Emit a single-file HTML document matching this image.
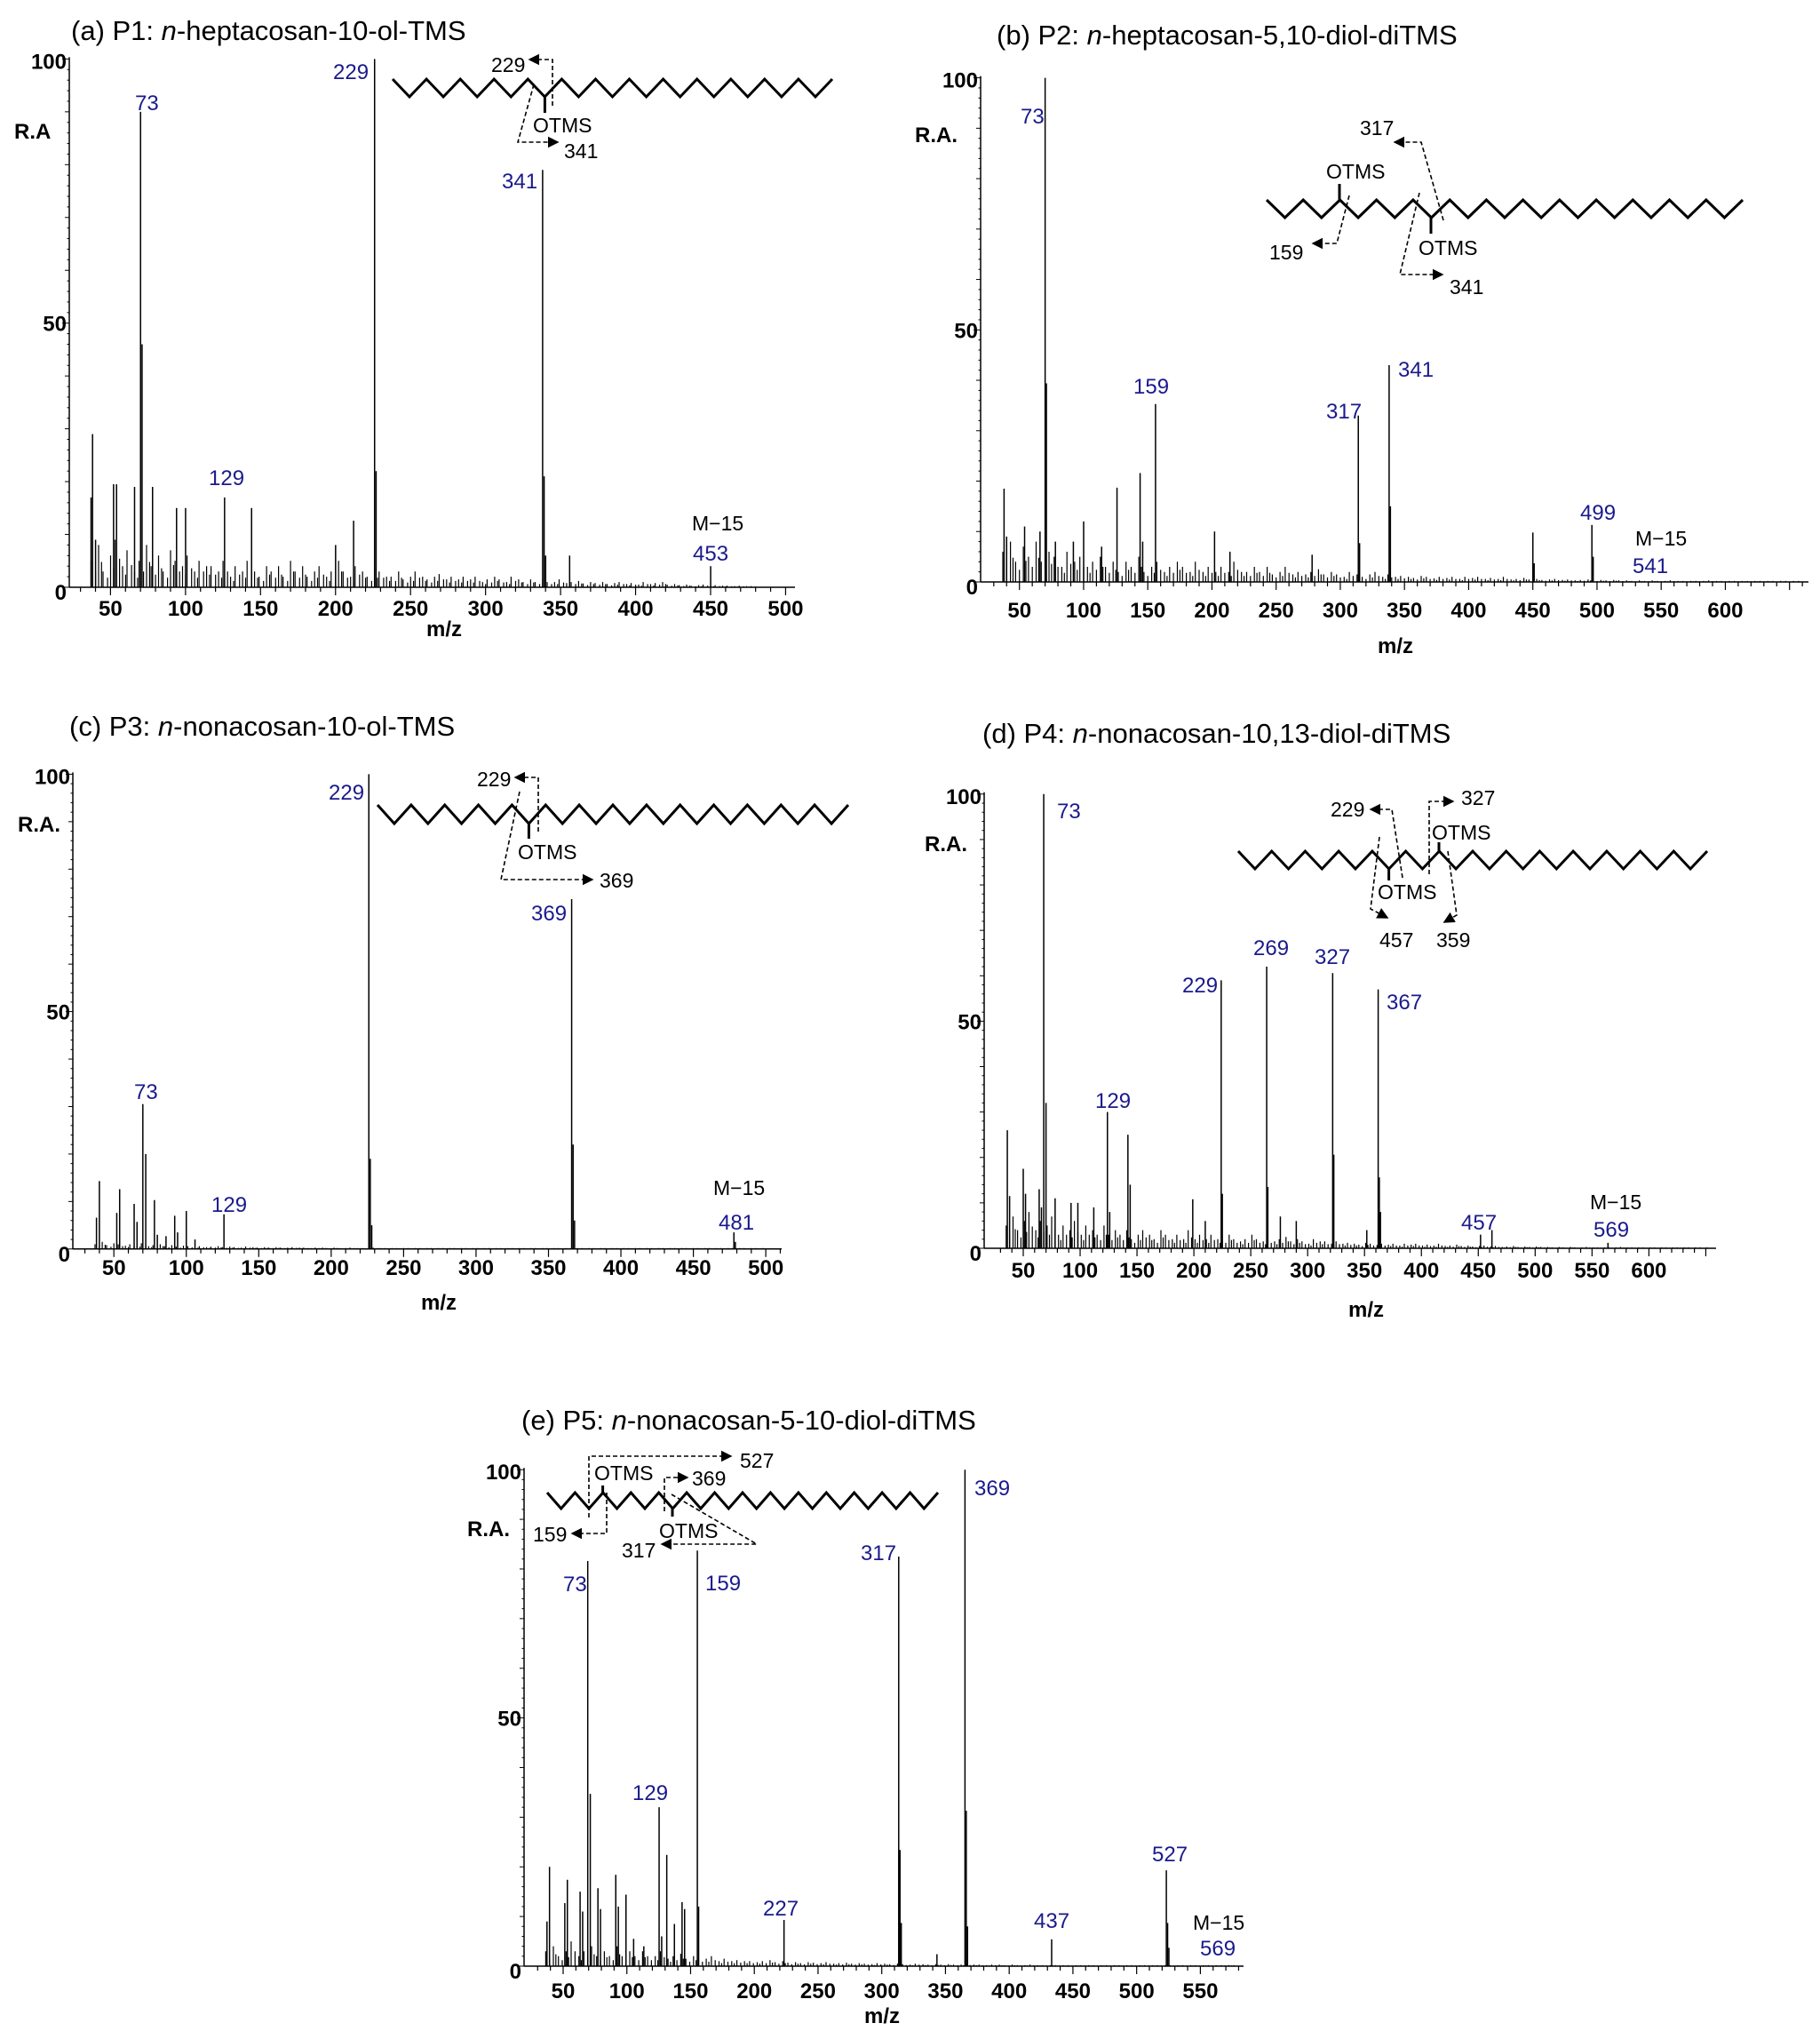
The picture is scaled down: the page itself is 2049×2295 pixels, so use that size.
<!DOCTYPE html>
<html><head><meta charset="utf-8"><style>
html,body{margin:0;padding:0;background:#fff}
svg{display:block}
.t{font-family:"Liberation Sans",sans-serif;fill:#000}
.tk{font-family:"Liberation Sans Narrow","Liberation Sans",sans-serif;font-weight:bold;font-size:24px;fill:#000}
.pl{font-family:"Liberation Sans Narrow","Liberation Sans",sans-serif;font-size:24px;fill:#1a1a8c}
.an{font-family:"Liberation Sans Narrow","Liberation Sans",sans-serif;font-size:23px;fill:#000}
.ti{font-family:"Liberation Sans",sans-serif;font-size:31px;fill:#000}
.ds{fill:none;stroke:#000;stroke-width:1.6;stroke-dasharray:5,3}
</style></head><body>
<svg id="fig" xmlns="http://www.w3.org/2000/svg" width="2049" height="2295" viewBox="0 0 2049 2295">
<defs><marker id="ar" markerWidth="8" markerHeight="8" refX="7" refY="4" orient="auto"><path d="M0,0 L8,4 L0,8 z" fill="#000"/></marker></defs>

<text class="ti" x="80" y="45">(a) P1: <tspan font-style="italic">n</tspan>-heptacosan-10-ol-TMS</text>
<text class="ti" x="1122" y="50">(b) P2: <tspan font-style="italic">n</tspan>-heptacosan-5,10-diol-diTMS</text>
<text class="ti" x="78" y="828">(c) P3: <tspan font-style="italic">n</tspan>-nonacosan-10-ol-TMS</text>
<text class="ti" x="1106" y="836">(d) P4: <tspan font-style="italic">n</tspan>-nonacosan-10,13-diol-diTMS</text>
<text class="ti" x="587" y="1609">(e) P5: <tspan font-style="italic">n</tspan>-nonacosan-5-10-diol-diTMS</text>

<text class="tk" x="16" y="156" font-size="27">R.A</text>
<text class="tk" x="1030" y="160" font-size="27">R.A.</text>
<text class="tk" x="20" y="936" font-size="27">R.A.</text>
<text class="tk" x="1041" y="958" font-size="27">R.A.</text>
<text class="tk" x="526" y="1729" font-size="27">R.A.</text>

<text class="tk" x="500" y="716" text-anchor="middle">m/z</text>
<text class="tk" x="1571" y="735" text-anchor="middle">m/z</text>
<text class="tk" x="494" y="1474" text-anchor="middle">m/z</text>
<text class="tk" x="1538" y="1482" text-anchor="middle">m/z</text>
<text class="tk" x="993" y="2277" text-anchor="middle">m/z</text>

<g>
<text class="pl" x="152" y="124">73</text><text class="pl" x="375" y="89">229</text>
<text class="pl" x="565" y="212">341</text><text class="pl" x="235" y="546">129</text>
<text class="an" x="779" y="597">M−15</text><text class="pl" x="780" y="631">453</text></g>
<g>
<text class="pl" x="1149" y="139">73</text><text class="pl" x="1276" y="443">159</text>
<text class="pl" x="1493" y="471">317</text><text class="pl" x="1574" y="424">341</text>
<text class="pl" x="1779" y="585">499</text><text class="an" x="1841" y="614">M−15</text>
<text class="pl" x="1838" y="645">541</text></g>
<g>
<text class="pl" x="151" y="1237">73</text><text class="pl" x="238" y="1364">129</text>
<text class="pl" x="370" y="900">229</text><text class="pl" x="598" y="1036">369</text>
<text class="an" x="803" y="1345">M−15</text><text class="pl" x="809" y="1384">481</text></g>
<g>
<text class="pl" x="1190" y="921">73</text><text class="pl" x="1233" y="1247">129</text>
<text class="pl" x="1331" y="1117">229</text><text class="pl" x="1411" y="1075">269</text>
<text class="pl" x="1480" y="1085">327</text><text class="pl" x="1561" y="1136">367</text>
<text class="pl" x="1645" y="1384">457</text><text class="an" x="1790" y="1361">M−15</text>
<text class="pl" x="1794" y="1392">569</text></g>
<g>
<text class="pl" x="634" y="1791">73</text><text class="pl" x="794" y="1790">159</text>
<text class="pl" x="712" y="2026">129</text><text class="pl" x="859" y="2156">227</text>
<text class="pl" x="969" y="1756">317</text><text class="pl" x="1097" y="1683">369</text>
<text class="pl" x="1164" y="2170">437</text><text class="pl" x="1297" y="2095">527</text>
<text class="an" x="1343" y="2172">M−15</text><text class="pl" x="1351" y="2201">569</text></g>

<g>
<polyline id="chainA" fill="none" stroke="#000" stroke-width="3"/>
<line x1="613.4" y1="109" x2="613.4" y2="127" stroke="#000" stroke-width="3"/>
<text class="an" x="600" y="149">OTMS</text>
<text class="an" x="553" y="81">229</text>
<polyline class="ds" points="622,119 622,67 596,67" marker-end="url(#ar)"/>
<polyline class="ds" points="601,95 583,160 628,160" marker-end="url(#ar)"/>
<text class="an" x="635" y="178">341</text></g>
<g>
<polyline id="chainB" fill="none" stroke="#000" stroke-width="3"/>
<line x1="1508" y1="225" x2="1508" y2="207" stroke="#000" stroke-width="3"/>
<line x1="1611" y1="245" x2="1611" y2="263" stroke="#000" stroke-width="3"/>
<text class="an" x="1493" y="201">OTMS</text><text class="an" x="1597" y="287">OTMS</text>
<polyline class="ds" points="1519,220 1505,274 1478,274" marker-end="url(#ar)"/>
<text class="an" x="1429" y="292">159</text>
<polyline class="ds" points="1625,248 1600,160 1570,160" marker-end="url(#ar)"/>
<text class="an" x="1531" y="152">317</text>
<polyline class="ds" points="1598,217 1576,309 1624,309" marker-end="url(#ar)"/>
<text class="an" x="1632" y="331">341</text></g>
<g>
<polyline id="chainC" fill="none" stroke="#000" stroke-width="3"/>
<line x1="595.4" y1="927" x2="595.4" y2="944" stroke="#000" stroke-width="3"/>
<text class="an" x="583" y="967">OTMS</text>
<text class="an" x="537" y="885">229</text>
<polyline class="ds" points="606,936 606,875 580,875" marker-end="url(#ar)"/>
<polyline class="ds" points="585,891 564,990 667,990" marker-end="url(#ar)"/>
<text class="an" x="675" y="999">369</text></g>
<g>
<polyline id="chainD" fill="none" stroke="#000" stroke-width="3"/>
<line x1="1563.6" y1="978" x2="1563.6" y2="991" stroke="#000" stroke-width="3"/>
<line x1="1620" y1="958" x2="1620" y2="948" stroke="#000" stroke-width="3"/>
<text class="an" x="1612" y="945">OTMS</text><text class="an" x="1551" y="1012">OTMS</text>
<text class="an" x="1498" y="919">229</text>
<polyline class="ds" points="1579,988 1567,911 1543,911" marker-end="url(#ar)"/>
<polyline class="ds" points="1609,984 1609,902 1636,902" marker-end="url(#ar)"/>
<text class="an" x="1645" y="906">327</text>
<polyline class="ds" points="1553,942 1543,1023 1562,1033" marker-end="url(#ar)"/>
<polyline class="ds" points="1630,958 1640,1030 1626,1038" marker-end="url(#ar)"/>
<text class="an" x="1553" y="1066">457</text><text class="an" x="1617" y="1066">359</text></g>
<g>
<polyline id="chainE" fill="none" stroke="#000" stroke-width="3"/>
<line x1="678.6" y1="1680" x2="678.6" y2="1672" stroke="#000" stroke-width="3"/>
<line x1="757" y1="1698" x2="757" y2="1707" stroke="#000" stroke-width="3"/>
<text class="an" x="669" y="1666" font-size="21">OTMS</text><text class="an" x="742" y="1731" font-size="21">OTMS</text>
<polyline class="ds" points="663,1708 663,1639 823,1639" marker-end="url(#ar)"/>
<text class="an" x="833" y="1652">527</text>
<polyline class="ds" points="748,1701 748,1663 774,1663" marker-end="url(#ar)"/>
<text class="an" x="779" y="1672">369</text>
<polyline class="ds" points="683,1680 683,1726 644,1726" marker-end="url(#ar)"/>
<text class="an" x="600" y="1735">159</text>
<polyline class="ds" points="756,1682 852,1738 745,1738" marker-end="url(#ar)"/>
<text class="an" x="700" y="1753">317</text></g>
<g id="plots"></g>
</svg>
<script>
const aMz  = [40,41,43,55,57,69,73,74,81,97,103,129,147,203,215,229,230,341,342,343,359,453];
const aInt = [17,29,9,19.5,19.5,19,90,46,19,15,15,17,15,8,12.6,100,22,79,21,6,6,4];
const aNoise = [5,8,3,6,9,4,7,3,5,8,4,6,3,7,5,4,6,3,5,4,4,3,5,2,4,3,5,3,2,4,3,4,2,5,3,4,2,3,4,2,3,5,3,2,4,3,2,3,3,2,2,3,1.5,2,3,2,1.5,2,2.5,1.5,2,1.5,2,1.5,2,1,1.5,2,1.5,1,2,1.5,1,1.5,1,1.5,1,1,1.5,0.8,1,1.2,0.7,1,0.8,1,0.6,0.8,1,0.6,0.8,0.5,1,0.6,0.8,1,0.5,0.6,0.4,0.5,0.3,0.4,0.5,0.3,0.4,0.3,0.3,0.2,0.3,0.2,0.2];
const bMz  = [41,43,57,69,73,74,81,95,103,117,129,147,149,159,205,217,281,317,318,341,342,453,454,499,500];
const bInt = [18.5,9,11,10,100,39.4,8,8,12,7,18.7,21.6,8,35.3,10,6,5.4,33,7.7,43,15,9.8,3.7,11.3,5];
const bNoise = [6,8,4,7,5,8,4,6,5,3,6,4,5,3,4,5,3,4,2,4,3,5,2,3,4,2,3,4,3,2,4,2,3,2,3,2,4,2,2,3,2,3,1.5,2,3,1.5,2,1.5,2,2.5,1.5,2,1.5,1,2,1.5,1,1.5,2,1,1.5,1,1.2,1,0.8,1.2,1,0.7,1,0.8,1,0.6,1,0.8,1,0.6,0.8,0.6,1,0.5,0.6,0.8,0.5,0.6,0.4,0.5,0.6,0.4,0.5,0.3,0.4,0.5,0.3,0.4,0.3,0.4,0.3,0.3,0.2,0.3,0.2,0.3,0.2,0.2,0.3,0.2,0.2,0.2,0.2,0.2,0.3,0.2,0.2,0.2,0.2,0.2,0.2,0.2,0.2,0.2,0.2,0.2,0.2,0.2,0.2,0.2];
const cMz  = [41,43,55,57,67,69,73,75,81,83,89,95,97,103,109,129,229,230,231,369,370,371,481,482];
const cInt = [6.6,14.3,7.6,12.6,9.5,5.7,30.5,20,10.3,3,2.7,7,3.5,8,2,7.3,100,19,5,73.7,22,6,3.5,1.5];
const cNoise = [1,1.5,0.8,1.2,1,0.7,1,0.8,1.2,0.6,0.8,1,0.6,0.8,0.5,0.7,0.6,0.5,0.6,0.4,0.5,0.6,0.4,0.5,0.4,0.3,0.5,0.4,0.3,0.4,0.3,0.4,0.3,0.3,0.4,0.3,0.3,0.2,0.3,0.3,0.2,0.3,0.2,0.2,0.3,0.2,0.2,0.2,0.3,0.2,0.2,0.2,0.2,0.2,0.2,0.2,0.2,0.2,0.2,0.2,0.2,0.2,0.2,0.2,0.2,0.2,0.2,0.2,0.2,0.2,0.2,0.2,0.2,0.2,0.2,0.2,0.2,0.2,0.2,0.2,0.2,0.2,0.2,0.2,0.2,0.2,0.2,0.2,0.2,0.2,0.2,0.2,0.2,0.2,0.2,0.2,0.2,0.2,0.2,0.2,0.2,0.2,0.2,0.2,0.2,0.2,0.2,0.2,0.2,0.2,0.2,0.2,0.2,0.2,0.2,0.2];
const dMz  = [41,43,55,57,69,71,73,75,83,97,103,117,129,131,147,149,204,215,229,230,269,270,281,295,327,328,357,367,368,369,457,467,569];
const dInt = [26,11.5,17.5,12,13,9,100,32,11,10,10,9,30,8,25,14,10.8,6,59,12,62,13.5,7,6,60.6,20.6,4,57,15.6,8,3,4,1.2];
const dNoise = [5,7,4,6,8,4,6,5,7,3,5,4,6,3,5,4,3,5,3,4,3,4,2,3,4,3,2,4,3,2,3,2,4,2,3,2,3,2,2,3,2,1.5,2,3,2,1.5,2,1.5,2,2.5,1.5,2,1.5,1,2,1.5,1.5,1,1.5,1,1.2,1,0.8,1.2,1,0.7,1,0.8,1,0.6,1,0.8,1,0.6,0.8,0.6,1,0.5,0.6,0.8,0.5,0.6,0.4,0.5,0.6,0.4,0.5,0.3,0.4,0.5,0.3,0.4,0.3,0.4,0.3,0.3,0.2,0.3,0.2,0.3,0.2,0.2,0.3,0.2,0.2,0.2,0.2,0.2,0.3,0.2,0.2,0.2,0.2,0.2,0.2,0.2,0.2,0.2,0.2,0.2,0.2,0.2,0.2,0.2];
const eMz  = [41,43,55,57,67,69,73,75,81,83,95,97,103,109,117,129,131,135,141,147,149,159,160,227,317,318,319,347,369,370,371,437,527,528,529];
const eInt = [9,20,12.7,17.4,15,11,81.6,34.7,15.7,11.5,18.4,12,14.4,5.5,4,32,6,22.4,8.5,12.9,11.5,83.7,12,9.3,82.5,23.4,8.7,2.4,100,31.3,8,5.4,19.3,8.7,3.7];
const eNoise = [3,4,2,3,5,2,3,4,2,3,2,4,2,3,2,3,2,2,3,1.5,2,2.5,1.5,2,1.5,1.5,2,1,1.5,1,1.2,1,1,0.8,1,1.2,0.8,1,0.7,0.8,0.6,0.8,0.7,0.6,0.8,0.5,0.6,0.7,0.5,0.6,0.5,0.4,0.6,0.5,0.4,0.5,0.4,0.3,0.5,0.4,0.3,0.4,0.3,0.4,0.3,0.3,0.4,0.3,0.3,0.2,0.3,0.3,0.2,0.3,0.2,0.2,0.3,0.2,0.2,0.2,0.2,0.2,0.2,0.2,0.2,0.2,0.2,0.2,0.2,0.2,0.2,0.2,0.2,0.2,0.2,0.2,0.2,0.2,0.2,0.2,0.2,0.2,0.2,0.2,0.2,0.2,0.2,0.2,0.2,0.2,0.2,0.2,0.2,0.2,0.2,0.2,0.2];
const aTicks = [50,100,150,200,250,300,350,400,450,500];
const bTicks = [50,100,150,200,250,300,350,400,450,500,550,600];
const cTicks = [50,100,150,200,250,300,350,400,450,500];
const dTicks = [50,100,150,200,250,300,350,400,450,500,550,600];
const eTicks = [50,100,150,200,250,300,350,400,450,500,550];
const yTicks = [0,50,100];

const NS='http://www.w3.org/2000/svg';
const root=document.getElementById('plots');
function mk(tag,attrs,parent){const e=document.createElementNS(NS,tag);for(const k in attrs)e.setAttribute(k,attrs[k]);(parent||root).appendChild(e);return e;}

function panel(id,g,mz,inten,noise,ticks){
  const grp=mk('g',{});
  
  
  const xs=m=>g.x50+(m-50)*g.ppu;
  const xd=m=>xs(m)+g.off;
  const ys=v=>g.y0-(g.y0-g.y100)*v/100;
  const ya=mk('line',{x1:g.ax,y1:g.y100-2,x2:g.ax,y2:g.y0,stroke:'#000','stroke-width':1.5},grp);
  
  
  const xa=mk('line',{x1:g.ax,y1:g.y0,x2:g.xe,y2:g.y0,stroke:'#000','stroke-width':1.5},grp);
  
  
  for(let v=0;v<=100;v+=2){const L=(v%50===0)?8:(v%10===0?5:2.5);mk('line',{x1:g.ax-L,y1:ys(v),x2:g.ax,y2:ys(v),stroke:'#000','stroke-width':1},grp);}
  yTicks.forEach(v=>{const t=mk('text',{x:g.ax-3,y:ys(v)+(v===100?11:(v===0?14:9)),'text-anchor':'end',class:'tk'},grp);t.textContent=v;
    
    });
  for(let m=30;xs(m)<=g.xe;m+=10){const L=(m%50===0)?9:5;mk('line',{x1:xs(m),y1:g.y0,x2:xs(m),y2:g.y0+L,stroke:'#000','stroke-width':1.2},grp);}
  ticks.forEach(m=>{const t=mk('text',{x:xs(m),y:g.ly,'text-anchor':'middle',class:'tk'},grp);t.textContent=m;
    
    });
  let d='';
  noise.forEach((v,i)=>{const m=40+i*g.ns+(i%2);const x=xd(m);if(x<g.xe-8)d+='M'+x.toFixed(1)+' '+g.y0+'V'+ys(v).toFixed(1);});
  noise.forEach((v,i)=>{const m=41+i*g.ns+2;const x=xd(m);if(x<g.xe-8&&m<g.nmax)d+='M'+x.toFixed(1)+' '+g.y0+'V'+ys(v*0.6).toFixed(1);});
  const np=mk('path',{d:d,stroke:'#000','stroke-width':1.2,fill:'none'},grp);
  
  
  mz.forEach((m,i)=>{const l=mk('line',{x1:xd(m),y1:g.y0,x2:xd(m),y2:ys(inten[i]),stroke:'#000','stroke-width':1.5},grp);
    
    });
}
panel('a',{ax:78,y0:661,y100:66.4,x50:124.4,ppu:1.689,xe:895,ly:693,ns:4,nmax:500,off:-5},aMz,aInt,aNoise,aTicks);
panel('b',{ax:1104,y0:655,y100:87.6,x50:1147.7,ppu:1.445,xe:2036,ly:695,ns:5,nmax:640,off:-4.3},bMz,bInt,bNoise,bTicks);
panel('c',{ax:82,y0:1405.8,y100:871.4,x50:128.2,ppu:1.631,xe:880,ly:1435,ns:4,nmax:500,off:-4.9},cMz,cInt,cNoise,cTicks);
panel('d',{ax:1108,y0:1405,y100:893.8,x50:1152,ppu:1.2807,xe:1932,ly:1438,ns:5,nmax:640,off:-6.4},dMz,dInt,dNoise,dTicks);
panel('e',{ax:590,y0:2213,y100:1654.2,x50:634,ppu:1.4348,xe:1400,ly:2249,ns:5,nmax:580,off:-5.3},eMz,eInt,eNoise,eTicks);

function chain(id,x0,x1,n,yt,yb,startTop){
  const dx=(x1-x0)/(n-1);const pts=[];
  for(let i=0;i<n;i++){const top=(i%2===0)===startTop;pts.push((x0+i*dx).toFixed(1)+','+(top?yt:yb));}
  document.getElementById(id).setAttribute('points',pts.join(' '));
}
chain('chainA',442,937,27,89,109,true);
chain('chainB',1426,1962,27,225,245,true);
chain('chainC',425,955,29,906,927,true);
chain('chainD',1394,1922,29,958,978,true);
chain('chainE',616,1056,29,1680,1698,true);
</script>
</body></html>
